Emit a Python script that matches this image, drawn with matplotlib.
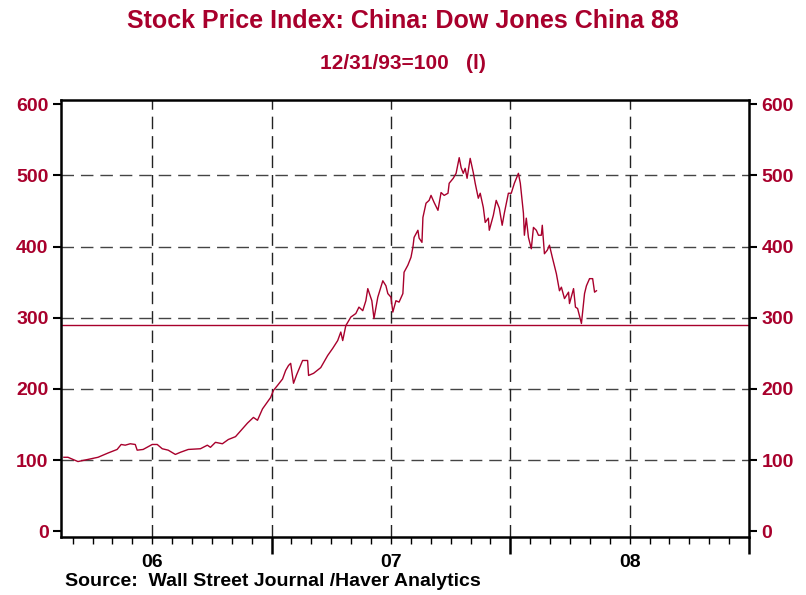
import numpy as np
import matplotlib
matplotlib.use('Agg')
import matplotlib.pyplot as plt

# weekly readings, x in decimal years
t = [2006.130, 2006.147, 2006.168, 2006.189, 2006.231, 2006.273, 2006.315, 2006.353,
     2006.370, 2006.387, 2006.408, 2006.429, 2006.437, 2006.462, 2006.500, 2006.521,
     2006.542, 2006.567, 2006.597, 2006.618, 2006.651, 2006.702, 2006.731, 2006.744,
     2006.765, 2006.794, 2006.819, 2006.849, 2006.878, 2006.899, 2006.924, 2006.941,
     2006.962, 2006.996, 2007.008, 2007.025, 2007.046, 2007.059, 2007.071, 2007.080,
     2007.092, 2007.105, 2007.130, 2007.151, 2007.155, 2007.176, 2007.206, 2007.235,
     2007.256, 2007.277, 2007.290, 2007.298, 2007.311, 2007.332, 2007.353, 2007.366,
     2007.382, 2007.395, 2007.403, 2007.420, 2007.429, 2007.445, 2007.466, 2007.479,
     2007.487, 2007.500, 2007.508, 2007.521, 2007.534, 2007.550, 2007.555, 2007.571,
     2007.584, 2007.592, 2007.597, 2007.613, 2007.618, 2007.630, 2007.634, 2007.647,
     2007.660, 2007.668, 2007.681, 2007.697, 2007.710, 2007.723, 2007.739, 2007.744,
     2007.761, 2007.773, 2007.786, 2007.794, 2007.803, 2007.811, 2007.819, 2007.832,
     2007.845, 2007.853, 2007.866, 2007.874, 2007.887, 2007.895, 2007.908, 2007.912,
     2007.929, 2007.941, 2007.954, 2007.966, 2007.975, 2007.992, 2008.004, 2008.017,
     2008.034, 2008.042, 2008.055, 2008.059, 2008.067, 2008.076, 2008.088, 2008.097,
     2008.109, 2008.118, 2008.130, 2008.134, 2008.143, 2008.155, 2008.164, 2008.176,
     2008.193, 2008.206, 2008.214, 2008.227, 2008.244, 2008.248, 2008.265, 2008.273,
     2008.282, 2008.298, 2008.311, 2008.319, 2008.332, 2008.345, 2008.353, 2008.361]

dj88 = [104, 104, 101, 98, 101, 104, 110, 115,
        122, 121, 123, 122, 114, 115, 122, 122,
        116, 114, 108, 111, 115, 116, 121, 118,
        125, 123, 129, 133, 144, 152, 160, 156,
        172, 188, 198, 205, 214, 226, 233, 236,
        208, 220, 240, 240, 219, 222, 230, 247,
        257, 268, 280, 268, 289, 301, 306, 315,
        310, 324, 341, 324, 299, 329, 352, 345,
        334, 329, 308, 324, 322, 334, 364, 374,
        385, 399, 413, 423, 412, 406, 441, 461,
        465, 472, 462, 451, 476, 472, 475, 489,
        496, 503, 525, 511, 503, 510, 496, 524,
        504, 489, 468, 475, 455, 434, 440, 423,
        444, 465, 454, 430, 447, 475, 475, 489,
        503, 489, 447, 416, 440, 413, 397, 427,
        423, 416, 416, 430, 390, 395, 402, 385,
        362, 338, 343, 327, 336, 320, 341, 315,
        313, 292, 334, 345, 355, 355, 336, 338]

ref_level = 290
yticks = [0, 100, 200, 300, 400, 500, 600]
year_labels = ['06', '07', '08']
year_mid = [2006.5, 2007.5, 2008.5]

red = '#a8002c'
plt.rcParams['font.family'] = ['Liberation Sans', 'DejaVu Sans']

fig = plt.figure(figsize=(8.06, 5.95), dpi=100)
ax = fig.add_axes([0.0757, 0.0975, 0.8536, 0.7344])

ax.plot(t, dj88, color=red, lw=1.0)
ax.axhline(ref_level, color=red, lw=1.0)

ax.set_xlim(2006.118, 2009.0)
ax.set_ylim(-8, 606)

# grid
for y in yticks[1:-1]:
    ax.axhline(y, color='#444444', lw=1.0, ls=(0, (9, 5)), zorder=0)
for x in [2006.5, 2007.0, 2007.5, 2008.0, 2008.5]:
    ax.axvline(x, color='#222222', lw=1.0, ls=(0, (9, 5)), zorder=0)

for s in ax.spines.values():
    s.set_linewidth(1.8)

ax.set_yticks(yticks)
ax.set_yticklabels([str(v) for v in yticks])
ax.tick_params(axis='y', which='both', direction='out', length=6, width=1.5,
               labelsize=14, labelcolor=red, left=True, right=True,
               labelleft=True, labelright=True, pad=3)
for lab in ax.get_yticklabels():
    lab.set_fontweight('bold')

months = [2006.0 + m / 12 for m in range(2, 36)]
ax.set_xticks([2007.0, 2008.0, 2009.0])
ax.set_xticklabels([])
ax.set_xticks(months, minor=True)
ax.tick_params(axis='x', which='major', direction='out', length=12, width=1.8)
ax.tick_params(axis='x', which='minor', direction='out', length=5, width=1.0)

for lab, xm in zip(year_labels, year_mid):
    ax.text(xm, -0.038, lab, transform=ax.get_xaxis_transform(), ha='center', va='top',
            fontsize=14, fontweight='bold', color='black')

fig.text(0.5, 0.964, 'Stock Price Index: China: Dow Jones China 88', ha='center', va='center',
         fontsize=18, fontweight='bold', color=red)
fig.text(0.5, 0.893, '12/31/93=100   (l)', ha='center', va='center',
         fontsize=15, fontweight='bold', color=red)
fig.text(0.081, 0.022, 'Source:  Wall Street Journal /Haver Analytics', ha='left', va='center',
         fontsize=14, fontweight='bold', color='black')

fig.savefig('out.png', dpi=100)
